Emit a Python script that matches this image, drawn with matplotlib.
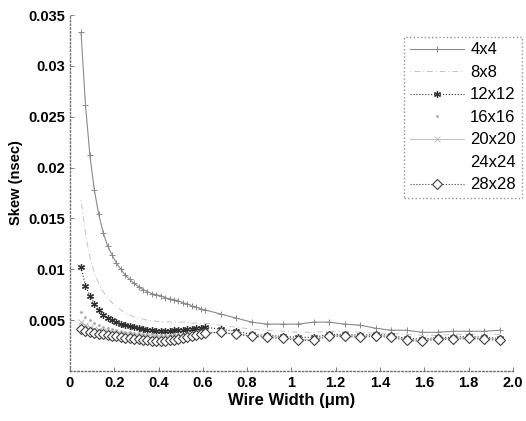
import matplotlib
matplotlib.use("Agg")
import matplotlib.pyplot as plt

# Wire width (um)
width = [0.05, 0.07, 0.09, 0.11, 0.13, 0.15, 0.17, 0.19, 0.21, 0.23, 0.25, 0.27,
         0.29, 0.31, 0.33, 0.35, 0.37, 0.39, 0.41, 0.43, 0.45, 0.47, 0.49, 0.51,
         0.53, 0.55, 0.57, 0.59, 0.61,
         0.68, 0.75, 0.82, 0.89, 0.96, 1.03, 1.10, 1.17, 1.24, 1.31, 1.38, 1.45,
         1.52, 1.59, 1.66, 1.73, 1.80, 1.87, 1.94]

skew_4x4 = [0.0333, 0.0262, 0.0212, 0.0178, 0.0154, 0.0136, 0.0123, 0.0114, 0.0106, 0.0100,
            0.0094, 0.0090, 0.0086, 0.0083, 0.0080, 0.0078, 0.0076, 0.0075, 0.0074, 0.0072,
            0.0071, 0.0070, 0.0069, 0.0067, 0.0066, 0.0064, 0.0063, 0.0061, 0.0060,
            0.0056, 0.0052, 0.0048, 0.0046, 0.0046, 0.0046, 0.0048, 0.0048, 0.0046, 0.0045,
            0.0042, 0.0040, 0.0040, 0.0038, 0.0038, 0.0039, 0.0039, 0.0039, 0.0040]
skew_8x8 = [0.0168, 0.0135, 0.0112, 0.0097, 0.0086, 0.0078, 0.0072, 0.0067, 0.0063, 0.0060,
            0.0057, 0.0055, 0.0053, 0.0052, 0.0051, 0.0050, 0.0049, 0.0049, 0.0048, 0.0048,
            0.0048, 0.0048, 0.0048, 0.0048, 0.0048, 0.0047, 0.0047, 0.0047, 0.0047,
            0.0045, 0.0043, 0.0041, 0.0040, 0.0039, 0.0038, 0.0038, 0.0039, 0.0039, 0.0038,
            0.0037, 0.0037, 0.0036, 0.0035, 0.0035, 0.0036, 0.0036, 0.0036, 0.0036]
skew_12x12 = [0.0102, 0.0084, 0.0074, 0.0066, 0.0060, 0.0055, 0.0052, 0.0050, 0.0048, 0.0046,
              0.0045, 0.0044, 0.0043, 0.0042, 0.0041, 0.0040, 0.0040, 0.0039, 0.0039, 0.0039,
              0.0039, 0.0040, 0.0040, 0.0040, 0.0041, 0.0041, 0.0042, 0.0042, 0.0043,
              0.0041, 0.0039, 0.0036, 0.0035, 0.0034, 0.0033, 0.0033, 0.0036, 0.0036, 0.0035,
              0.0036, 0.0035, 0.0032, 0.0031, 0.0033, 0.0033, 0.0034, 0.0033, 0.0032]
skew_16x16 = [0.0058, 0.0053, 0.0050, 0.0047, 0.0045, 0.0043, 0.0042, 0.0041, 0.0040, 0.0039,
              0.0038, 0.0038, 0.0037, 0.0037, 0.0036, 0.0036, 0.0036, 0.0035, 0.0035, 0.0035,
              0.0035, 0.0036, 0.0036, 0.0036, 0.0037, 0.0037, 0.0038, 0.0038, 0.0039,
              0.0039, 0.0037, 0.0035, 0.0034, 0.0033, 0.0032, 0.0032, 0.0035, 0.0035, 0.0034,
              0.0035, 0.0034, 0.0031, 0.0030, 0.0032, 0.0032, 0.0033, 0.0032, 0.0031]
skew_20x20 = [0.0048, 0.0045, 0.0043, 0.0041, 0.0040, 0.0039, 0.0038, 0.0037, 0.0036, 0.0036,
              0.0035, 0.0035, 0.0034, 0.0034, 0.0033, 0.0033, 0.0033, 0.0032, 0.0032, 0.0032,
              0.0033, 0.0033, 0.0033, 0.0034, 0.0034, 0.0035, 0.0036, 0.0037, 0.0038,
              0.0038, 0.0036, 0.0035, 0.0034, 0.0033, 0.0031, 0.0031, 0.0035, 0.0035, 0.0034,
              0.0035, 0.0034, 0.0031, 0.0030, 0.0032, 0.0032, 0.0033, 0.0032, 0.0031]
skew_24x24 = [0.0044, 0.0041, 0.0040, 0.0039, 0.0038, 0.0037, 0.0036, 0.0035, 0.0035, 0.0034,
              0.0033, 0.0033, 0.0032, 0.0032, 0.0031, 0.0031, 0.0030, 0.0030, 0.0030, 0.0030,
              0.0031, 0.0031, 0.0032, 0.0033, 0.0033, 0.0034, 0.0035, 0.0036, 0.0037,
              0.0039, 0.0037, 0.0035, 0.0034, 0.0033, 0.0031, 0.0031, 0.0035, 0.0035, 0.0034,
              0.0035, 0.0034, 0.0031, 0.0030, 0.0032, 0.0032, 0.0033, 0.0032, 0.0031]
skew_28x28 = [0.0041, 0.0039, 0.0038, 0.0037, 0.0036, 0.0036, 0.0035, 0.0034, 0.0034, 0.0033,
              0.0032, 0.0032, 0.0031, 0.0031, 0.0030, 0.0030, 0.0029, 0.0029, 0.0029, 0.0029,
              0.0030, 0.0030, 0.0031, 0.0032, 0.0033, 0.0034, 0.0035, 0.0036, 0.0037,
              0.0038, 0.0036, 0.0034, 0.0033, 0.0032, 0.0030, 0.0030, 0.0034, 0.0034, 0.0033,
              0.0034, 0.0033, 0.0030, 0.0029, 0.0031, 0.0031, 0.0032, 0.0031, 0.0030]

labels = ["4x4", "8x8", "12x12", "16x16", "20x20", "24x24", "28x28"]
xticks = [0, 0.2, 0.4, 0.6, 0.8, 1, 1.2, 1.4, 1.6, 1.8, 2.0]
xticklabels = ["0", "0.2", "0.4", "0.6", "0.8", "1", "1.2", "1.4", "1.6", "1.8", "2.0"]
yticks = [0.005, 0.01, 0.015, 0.02, 0.025, 0.03, 0.035]
yticklabels = ["0.005", "0.01", "0.015", "0.02", "0.025", "0.03", "0.035"]

plt.rcParams['font.family'] = ['Liberation Sans', 'DejaVu Sans']

fig = plt.figure(figsize=(5.26, 4.21), dpi=100)
ax = fig.add_axes([0.133, 0.119, 0.842, 0.845])

ax.plot(width, skew_4x4, color='#8a8a8a', linestyle='-', linewidth=0.8,
        marker='+', markersize=5, markeredgewidth=0.7, label=labels[0])
ax.plot(width, skew_8x8, color='#c4c4c4', linestyle=(0, (1, 3, 6, 3)), linewidth=0.7,
        marker='', label=labels[1])
ax.plot(width, skew_12x12, color='#303030', linestyle=':', linewidth=0.8,
        marker=(6, 2, 0), markersize=5, markeredgewidth=0.9, label=labels[2])
ax.plot(width, skew_16x16, color='#a8a8a8', linestyle='none',
        marker='.', markersize=2, label=labels[3])
ax.plot(width, skew_20x20, color='#b5b5b5', linestyle='-', linewidth=0.6,
        marker='x', markersize=4, markeredgewidth=0.6, label=labels[4])
ax.plot(width, skew_24x24, color='#e8e8e8', linestyle='none', linewidth=0.6,
        marker='', label=labels[5])
ax.plot(width, skew_28x28, color='#404040', linestyle=':', linewidth=0.8,
        marker='D', markersize=5, markerfacecolor='white', markeredgecolor='#404040',
        markeredgewidth=0.8, label=labels[6])

ax.set_xlim(0, 2.0)
ax.set_ylim(0, 0.035)
ax.set_xticks(xticks)
ax.set_xticklabels(xticklabels)
ax.set_yticks(yticks)
ax.set_yticklabels(yticklabels)
ax.tick_params(direction='in', length=3, width=0.6, colors='#666666',
               labelcolor='black', labelsize=10.5)
for lab in ax.get_xticklabels() + ax.get_yticklabels():
    lab.set_fontweight('bold')

for side in ['top', 'right']:
    ax.spines[side].set_visible(False)
for side in ['left', 'bottom']:
    ax.spines[side].set_color('#707070')
    ax.spines[side].set_linewidth(1.0)
    ax.spines[side].set_linestyle(':')

ax.set_xlabel("Wire Width (\u03bcm)", fontsize=12, fontweight='bold', labelpad=2)
ax.set_ylabel("Skew (nsec)", fontsize=10.5, fontweight='bold')
ax.yaxis.set_label_coords(-0.105, 0.53)

leg = ax.legend(loc='upper right', bbox_to_anchor=(1.02, 0.94), fontsize=12,
                frameon=True, fancybox=False, handlelength=3.2, borderpad=0.35,
                labelspacing=0.45, handletextpad=0.4, borderaxespad=0)
leg.get_frame().set_edgecolor('#777777')
leg.get_frame().set_linestyle(':')
leg.get_frame().set_linewidth(1.0)

fig.savefig("out.png", dpi=100)
